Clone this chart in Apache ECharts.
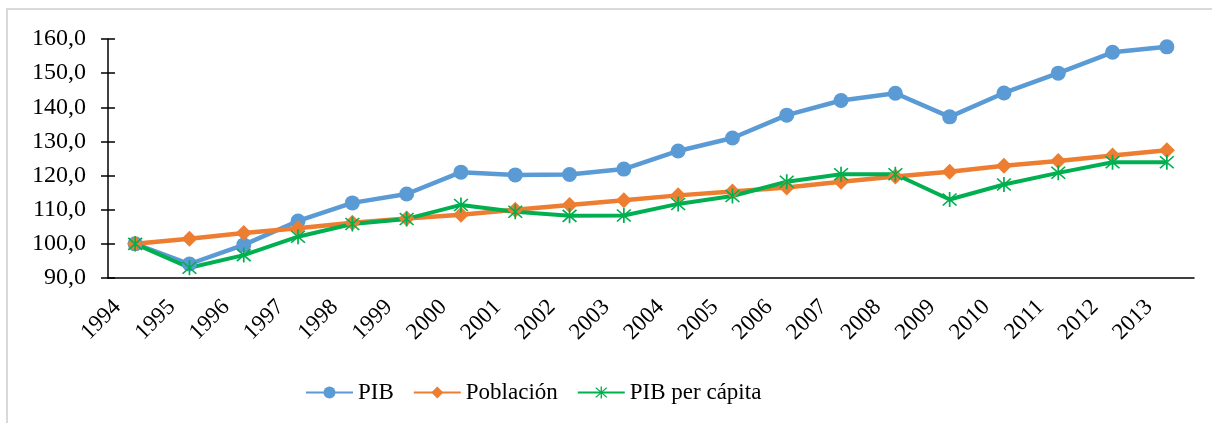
<!DOCTYPE html>
<html>
<head>
<meta charset="utf-8">
<script src="https://cdn.jsdelivr.net/npm/echarts@6/dist/echarts.min.js"></script>
<style>
  html, body { margin: 0; padding: 0; background: #fff; }
  #chart { width: 1212px; height: 423px; }
</style>
</head>
<body>
<div id="chart"></div>
<script>
// datos (indice 1994 = 100)
const years = ["1994", "1995", "1996", "1997", "1998", "1999", "2000", "2001", "2002", "2003",
  "2004", "2005", "2006", "2007", "2008", "2009", "2010", "2011", "2012", "2013"];
const pib = [100.0, 94.1, 99.7, 106.7, 112.0, 114.6, 121.0, 120.2, 120.3, 121.9,
  127.2, 131.0, 137.7, 142.0, 144.1, 137.2, 144.2, 150.0, 156.1, 157.7];
const poblacion = [100.0, 101.5, 103.2, 104.6, 106.2, 107.4, 108.5, 110.0, 111.4, 112.8,
  114.2, 115.3, 116.5, 118.2, 119.7, 121.1, 122.9, 124.3, 125.9, 127.4];
const pibPerCapita = [100.0, 93.0, 96.7, 102.1, 105.8, 107.3, 111.4, 109.4, 108.2, 108.3,
  111.7, 114.0, 118.2, 120.4, 120.4, 113.0, 117.4, 120.8, 123.9, 123.9];

const FONT = '"Liberation Serif", "Times New Roman", serif';
// asterisco tipo Excel (vertical + dos diagonales)
const STAR = 'path://M9 0L11 0L11 20L9 20Z M1.3 2.7L2.7 1.3L18.7 17.3L17.3 18.7Z M17.3 1.3L18.7 2.7L2.7 18.7L1.3 17.3Z';

const chart = echarts.init(document.getElementById('chart'));

const option = {
  animation: false,
  textStyle: { fontFamily: FONT, color: '#000' },
  graphic: [{
    type: 'rect',
    shape: { x: 7, y: 9, width: 1230, height: 440 },
    style: { fill: 'none', stroke: '#d9d9d9', lineWidth: 2 },
    silent: true
  }],
  grid: { left: 108, right: 18, top: 39, bottom: 145 },
  legend: {
    left: 300,
    top: 376,
    itemWidth: 47,
    itemHeight: 15,
    itemGap: 19,
    textStyle: { fontFamily: FONT, fontSize: 23, color: '#000' },
    data: ['PIB', 'Población', 'PIB per cápita']
  },
  xAxis: [{
    type: 'category',
    data: years,
    boundaryGap: true,
    axisLine: { lineStyle: { color: '#000', width: 1.5 } },
    axisTick: { length: 7, lineStyle: { color: '#000', width: 1.5 } },
    axisLabel: {
      rotate: 45, margin: 8, padding: [0, 25, 0, 0],
      fontSize: 23, color: '#000', fontFamily: FONT, interval: 0
    }
  }, {
    type: 'category',
    data: years,
    position: 'bottom',
    boundaryGap: true,
    axisLine: { show: false },
    axisTick: { inside: true, length: 7, lineStyle: { color: '#000', width: 1.5 } },
    axisLabel: { show: false }
  }],
  yAxis: [{
    type: 'value',
    min: 90,
    max: 160,
    interval: 10,
    axisLine: { show: true, lineStyle: { color: '#000', width: 1.5 } },
    axisTick: { show: true, length: 7, lineStyle: { color: '#000', width: 1.5 } },
    splitLine: { show: false },
    axisLabel: {
      margin: 22,
      fontSize: 24,
      color: '#000',
      fontFamily: FONT,
      formatter: (v) => v.toFixed(1).replace('.', ',')
    }
  }, {
    type: 'value',
    position: 'left',
    min: 90,
    max: 160,
    interval: 10,
    axisLine: { show: false },
    axisTick: { show: true, inside: true, length: 7, lineStyle: { color: '#000', width: 1.5 } },
    splitLine: { show: false },
    axisLabel: { show: false }
  }],
  series: [{
    name: 'PIB',
    type: 'line',
    data: pib,
    symbol: 'circle',
    symbolSize: 15,
    lineStyle: { color: '#5b9bd5', width: 4.5 },
    itemStyle: { color: '#5b9bd5', borderWidth: 0 }
  }, {
    name: 'Población',
    type: 'line',
    data: poblacion,
    symbol: 'diamond',
    symbolSize: 16,
    lineStyle: { color: '#ed7d31', width: 4.5 },
    itemStyle: { color: '#ed7d31', borderWidth: 0 }
  }, {
    name: 'PIB per cápita',
    type: 'line',
    data: pibPerCapita,
    symbol: STAR,
    symbolSize: 15,
    lineStyle: { color: '#00b050', width: 4 },
    itemStyle: { color: '#00b050', borderWidth: 0 }
  }]
};

chart.setOption(option);
</script>
</body>
</html>
